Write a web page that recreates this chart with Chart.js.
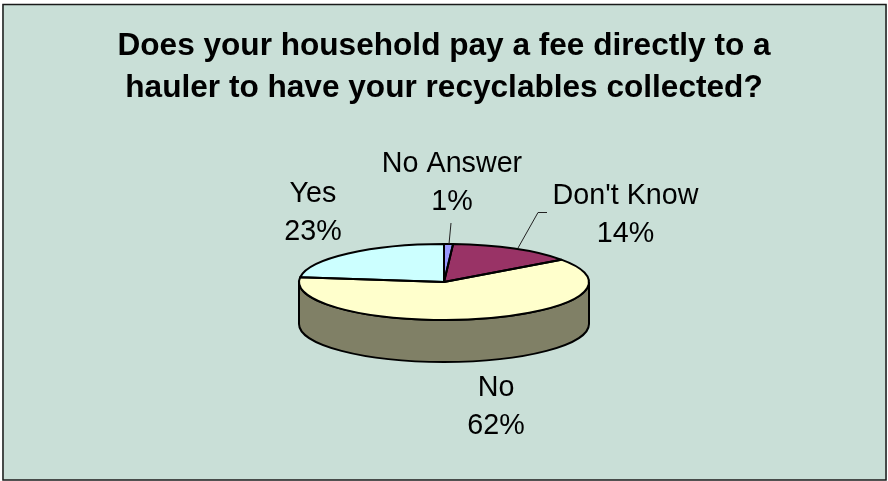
<!DOCTYPE html>
<html>
<head>
<meta charset="utf-8">
<style>
  html, body { margin: 0; padding: 0; background: #fff; }
  #wrap { width: 888px; height: 481px; }
</style>
<script src="https://cdn.jsdelivr.net/npm/chart.js@4"></script>
</head>
<body>
<div id="wrap"><canvas id="grafico"></canvas></div>
<script>
const categories = ["No Answer", "Don't Know", "No", "Yes"];
const percents = [1, 14, 62, 23];
const sliceColors = ["#9999FF", "#993366", "#FFFFCC", "#CCFFFF"];
const wallColors = ["#4C4C80", "#4C1933", "#808066", "#668080"];
const titleLines = ["Does your household pay a fee directly to a", "hauler to have your recyclables collected?"];

const FONT = "'Liberation Sans', Arial, sans-serif";
const PIE_RADIUS = 145;
const TILT = 38 / 145; // squash of the top face
const DEPTH = 42;

// label x centre and first baseline, leader lines, in canvas pixels
const labelAnchors = [[452, 172], [625.5, 204], [496, 396], [313, 202]];
const LABEL_GAP = 37.5;
const leaders = [
  [[449, 244], [451, 223]],
  [[518, 248], [538, 212.5], [547, 212.5]]
];

const pie3d = {
  id: 'pie3d',
  beforeDraw(chart) {
    const ctx = chart.ctx;
    ctx.save();
    ctx.fillStyle = '#C9DFD7';
    ctx.fillRect(2, 4, 885, 476);
    ctx.strokeStyle = '#1a1a1a';
    ctx.lineWidth = 1.5;
    ctx.strokeRect(3, 4.5, 883, 475.5);
    ctx.restore();
  },
  beforeDatasetsDraw(chart) {
    const ctx = chart.ctx;
    const arcs = chart.getDatasetMeta(0).data;
    const { x, y, outerRadius: r } = arcs[0];
    ctx.save();
    ctx.lineWidth = 2;
    ctx.strokeStyle = '#000';
    arcs.forEach((arc, i) => {
      // only the front half of the rim can be seen
      let a0 = arc.startAngle, a1 = arc.endAngle;
      if (a0 > Math.PI) return;
      a0 = Math.max(a0, 0);
      a1 = Math.min(a1, Math.PI);
      if (a1 <= a0) return;
      ctx.beginPath();
      ctx.ellipse(x, y, r, r * TILT, 0, a0, a1);
      ctx.ellipse(x, y + DEPTH, r, r * TILT, 0, a1, a0, true);
      ctx.closePath();
      ctx.fillStyle = wallColors[i];
      ctx.fill();
      ctx.stroke();
    });
    ctx.restore();
    // squash what the library draws next
    ctx.save();
    ctx.translate(x, y);
    ctx.scale(1, TILT);
    ctx.translate(-x, -y);
  },
  afterDatasetsDraw(chart) {
    const ctx = chart.ctx;
    ctx.restore();
    const arcs = chart.getDatasetMeta(0).data;
    ctx.save();
    ctx.lineWidth = 2;
    ctx.strokeStyle = '#000';
    ctx.lineJoin = 'round';
    arcs.forEach(arc => {
      ctx.beginPath();
      ctx.moveTo(arc.x, arc.y);
      ctx.ellipse(arc.x, arc.y, arc.outerRadius, arc.outerRadius * TILT, 0, arc.startAngle, arc.endAngle);
      ctx.closePath();
      ctx.stroke();
    });

    ctx.lineWidth = 1;
    ctx.strokeStyle = '#222';
    leaders.forEach(pts => {
      ctx.beginPath();
      pts.forEach((p, i) => i ? ctx.lineTo(p[0], p[1]) : ctx.moveTo(p[0], p[1]));
      ctx.stroke();
    });

    ctx.fillStyle = '#000';
    ctx.font = '28.7px ' + FONT;
    ctx.textAlign = 'center';
    ctx.textBaseline = 'alphabetic';
    categories.forEach((name, i) => {
      const c = labelAnchors[i];
      ctx.fillText(name, c[0], c[1]);
      ctx.fillText(percents[i] + '%', c[0], c[1] + LABEL_GAP);
    });
    ctx.restore();
  }
};

new Chart(document.getElementById('grafico'), {
  type: 'pie',
  data: {
    labels: categories,
    datasets: [{
      data: percents,
      backgroundColor: sliceColors,
      borderWidth: 0,
      radius: PIE_RADIUS
    }]
  },
  options: {
    responsive: true,
    maintainAspectRatio: false,
    animation: false,
    layout: { padding: { bottom: 26 } },
    plugins: {
      legend: { display: false },
      title: {
        display: true,
        text: titleLines,
        color: '#000',
        font: { family: FONT, size: 31.6, weight: 'bold', lineHeight: 42 / 31.6 },
        padding: { top: 25, bottom: 0 }
      }
    }
  },
  plugins: [pie3d]
});
</script>
</body>
</html>
